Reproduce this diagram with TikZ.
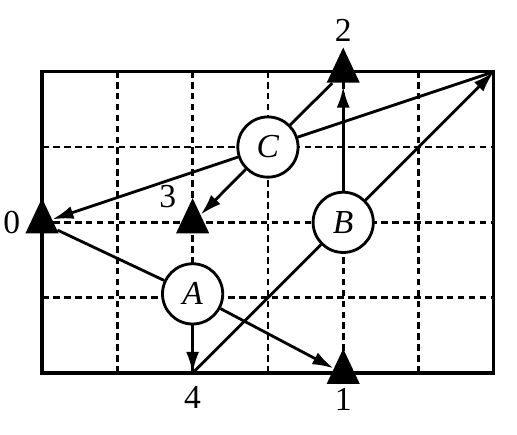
\documentclass[tikz,border=0pt]{standalone}
\usepackage{fontspec}
\setmainfont{Liberation Serif}
\usetikzlibrary{positioning,shapes,arrows.meta}

\begin{document}
\begin{tikzpicture}
        [
            x=1.5cm, y=1.5cm,
            >={Latex[length=4.2mm,width=2.6mm]},
            font=\fontsize{19}{22}\selectfont,
            gridline/.style={line width=1.6pt, dash pattern=on 3.8pt off 2.4pt},
            framebox/.style={line width=1.9pt},
            routeline/.style={line width=1.6pt},
            machinenode/.style={circle, draw, fill=white, line width=1.6pt, minimum size=1.2cm, inner sep=0pt},
            stationnode/.style={isosceles triangle, isosceles triangle stretches, shape border rotate=90, fill=black, minimum width=0.66cm, minimum height=0.70cm, inner sep=0pt, anchor=apex, yshift=5mm},
            numlabel/.style={inner sep=0pt},
        ]
        \useasboundingbox (-0.558,-0.823) rectangle (6.308,4.953);

        %Grade
        \foreach \i in {1,...,5}
            \draw[gridline] (\i,0) -- (\i,4);
        \foreach \j in {1,2,3}
            \draw[gridline] (0,\j) -- (6,\j);
        \draw[framebox] (0,0) rectangle (6,4);

        %Pontos
        \coordinate (p0) at (0,2);
        \coordinate (p1) at (4,0);
        \coordinate (p2) at (4,4);
        \coordinate (p3) at (2,2);
        \coordinate (p4) at (2,0);
        \coordinate (canto) at (6,4);

        %Estacoes
        \node[stationnode] (s0) at (p0) {};
        \node[stationnode] (s1) at (p1) {};
        \node[stationnode] (s2) at (p2) {};
        \node[stationnode] (s3) at (p3) {};

        %Rotulos
        \node[numlabel] (l0) [left=0.43cm of p0]                {0};
        \node[numlabel] (l1) [below=0.31cm of p1]               {1};
        \node[numlabel] (l2) [above=0.60cm of p2]               {2};
        \node[numlabel] (l3) [above left=0.28cm and 0.32cm of p3] {3};
        \node[numlabel] (l4) [below=0.27cm of p4]               {4};

        %Maquinas
        \node[machinenode] (A) at (2,1.05) {\textit{A}};
        \node[machinenode] (B) at (4,2)    {\textit{B}};
        \node[machinenode] (C) at (3,3)    {\textit{C}};

        %Linhas
        \draw[routeline] (A) -- (s0);
        \draw[routeline,->] (A) -- (p4);
        \draw[routeline,->] (A) -- (s1);
        \draw[routeline] (p4) -- (B);
        \draw[routeline,->] (B) -- (canto);
        \draw[routeline,->,shorten >=2pt] (B) -- (s2);
        \draw[routeline] (canto) -- (C);
        \draw[routeline,->] (C) -- (s0);
        \draw[routeline,->] (C) -- (s3);
        \draw[routeline] (C) -- (s2);
    \end{tikzpicture}
\end{document}
